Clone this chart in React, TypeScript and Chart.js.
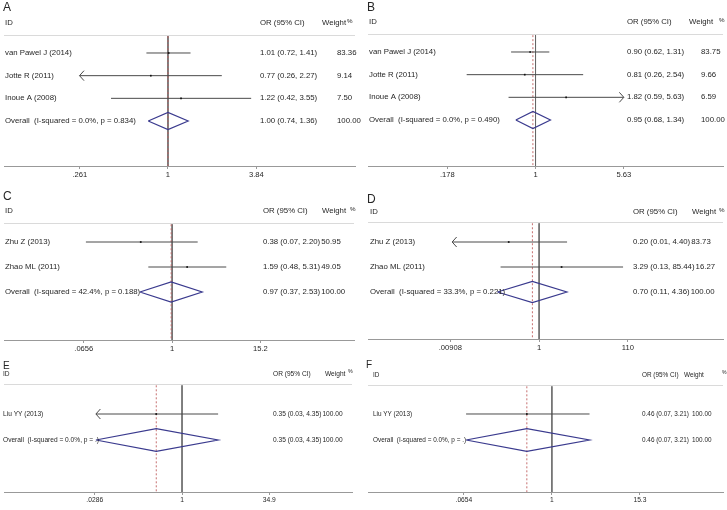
import React, { useEffect, useRef } from 'react';
import { Chart, registerables } from 'chart.js';
Chart.register(...registerables);

// ---------- Panel A ----------
const studiesA = ['van Pawel J (2014)', 'Jotte R (2011)', 'Inoue A (2008)'];
const orA = [1.01, 0.77, 1.22];
const loA = [0.72, 0.26, 0.42];
const hiA = [1.41, 2.27, 3.55];
const weightsA = ['83.36', '9.14', '7.50'];
const arrowLoA = [false, true, false];
const arrowHiA = [false, false, false];
const overallA = [1.0, 0.74, 1.36];
const overallLabelA = 'Overall  (I-squared = 0.0%, p = 0.834)';
const tickValsA = [0.261, 1, 3.84];
const tickLabelsA = ['.261', '1', '3.84'];

// ---------- Panel B ----------
const studiesB = ['van Pawel J (2014)', 'Jotte R (2011)', 'Inoue A (2008)'];
const orB = [0.9, 0.81, 1.82];
const loB = [0.62, 0.26, 0.59];
const hiB = [1.31, 2.54, 5.63];
const weightsB = ['83.75', '9.66', '6.59'];
const arrowLoB = [false, false, false];
const arrowHiB = [false, false, true];
const overallB = [0.95, 0.68, 1.34];
const overallLabelB = 'Overall  (I-squared = 0.0%, p = 0.490)';
const tickValsB = [0.178, 1, 5.63];
const tickLabelsB = ['.178', '1', '5.63'];

// ---------- Panel C ----------
const studiesC = ['Zhu Z (2013)', 'Zhao ML (2011)'];
const orC = [0.38, 1.59];
const loC = [0.07, 0.48];
const hiC = [2.2, 5.31];
const weightsC = ['50.95', '49.05'];
const arrowLoC = [false, false];
const arrowHiC = [false, false];
const overallC = [0.97, 0.37, 2.53];
const overallLabelC = 'Overall  (I-squared = 42.4%, p = 0.188)';
const tickValsC = [0.0656, 1, 15.2];
const tickLabelsC = ['.0656', '1', '15.2'];

// ---------- Panel D ----------
const studiesD = ['Zhu Z (2013)', 'Zhao ML (2011)'];
const orD = [0.2, 3.29];
const loD = [0.01, 0.13];
const hiD = [4.4, 85.44];
const weightsD = ['83.73', '16.27'];
const arrowLoD = [true, false];
const arrowHiD = [false, false];
const overallD = [0.7, 0.11, 4.36];
const overallLabelD = 'Overall  (I-squared = 33.3%, p = 0.221)';
const tickValsD = [0.00908, 1, 110];
const tickLabelsD = ['.00908', '1', '110'];

// ---------- Panel E ----------
const studiesE = ['Liu YY (2013)'];
const orE = [0.35];
const loE = [0.03];
const hiE = [4.35];
const weightsE = ['100.00'];
const arrowLoE = [true];
const arrowHiE = [false];
const overallE = [0.35, 0.03, 4.35];
const overallLabelE = 'Overall  (I-squared = 0.0%, p = .)';
const tickValsE = [0.0286, 1, 34.9];
const tickLabelsE = ['.0286', '1', '34.9'];

// ---------- Panel F ----------
const studiesF = ['Liu YY (2013)'];
const orF = [0.46];
const loF = [0.07];
const hiF = [3.21];
const weightsF = ['100.00'];
const arrowLoF = [false];
const arrowHiF = [false];
const overallF = [0.46, 0.07, 3.21];
const overallLabelF = 'Overall  (I-squared = 0.0%, p = .)';
const tickValsF = [0.0654, 1, 15.3];
const tickLabelsF = ['.0654', '1', '15.3'];

const overallWeight = '100.00';

const AX_H = 16;
const FONT = '"Liberation Sans", Arial, Helvetica, sans-serif';

type Layout = {
  left: number; top: number; width: number; areaL: number; areaR: number;
  hline: number; axis: number; xMin: number; xMax: number; yMin: number; yMax: number;
  idX: number; orX: number; wX: number; wHeadX: number; pctX: number; headY: number;
  letterX: number; letterY: number; font: number; letterFont: number; tickFont: number; dh: number;
};

type Panel = {
  letter: string; studies: string[]; or: number[]; lo: number[]; hi: number[]; weights: string[];
  arrowLo: boolean[]; arrowHi: boolean[]; overall: number[]; overallLabel: string;
  tickVals: number[]; tickLabels: string[]; L: Layout;
};

const panels: Panel[] = [
  {
    letter: 'A', studies: studiesA, or: orA, lo: loA, hi: hiA, weights: weightsA, arrowLo: arrowLoA, arrowHi: arrowHiA,
    overall: overallA, overallLabel: overallLabelA, tickVals: tickValsA, tickLabels: tickLabelsA,
    L: { left: 0, top: 0, width: 364, areaL: 3, areaR: 355, hline: 35, axis: 166, xMin: 0.0823, xMax: 17.26,
      yMin: -0.794, yMax: 4.985, idX: 5, orX: 260, wX: 337, wHeadX: 322, pctX: 347, headY: 23,
      letterX: 3, letterY: 8, font: 7.8, letterFont: 12, tickFont: 7.6, dh: 0.38 },
  },
  {
    letter: 'B', studies: studiesB, or: orB, lo: loB, hi: hiB, weights: weightsB, arrowLo: arrowLoB, arrowHi: arrowHiB,
    overall: overallB, overallLabel: overallLabelB, tickVals: tickValsB, tickLabels: tickLabelsB,
    L: { left: 364, top: 0, width: 363, areaL: 366, areaR: 724, hline: 34, axis: 166, xMin: 0.0377, xMax: 39.2,
      yMin: -0.794, yMax: 5.03, idX: 369, orX: 627, wX: 701, wHeadX: 689, pctX: 719, headY: 22,
      letterX: 367, letterY: 8, font: 7.8, letterFont: 12, tickFont: 7.6, dh: 0.38 },
  },
  {
    letter: 'C', studies: studiesC, or: orC, lo: loC, hi: hiC, weights: weightsC, arrowLo: arrowLoC, arrowHi: arrowHiC,
    overall: overallC, overallLabel: overallLabelC, tickVals: tickValsC, tickLabels: tickLabelsC,
    L: { left: 0, top: 182, width: 364, areaL: 3, areaR: 354, hline: 223, axis: 340, xMin: 0.0056, xMax: 273,
      yMin: -0.76, yMax: 3.92, idX: 5, orX: 263, wX: 318, wHeadX: 322, pctX: 350, headY: 211,
      letterX: 3, letterY: 197, font: 7.8, letterFont: 12, tickFont: 7.6, dh: 0.4 },
  },
  {
    letter: 'D', studies: studiesD, or: orD, lo: loD, hi: hiD, weights: weightsD, arrowLo: arrowLoD, arrowHi: arrowHiD,
    overall: overallD, overallLabel: overallLabelD, tickVals: tickValsD, tickLabels: tickLabelsD,
    L: { left: 364, top: 182, width: 363, areaL: 367, areaR: 725, hline: 222, axis: 339, xMin: 0.000116, xMax: 16990,
      yMin: -0.8, yMax: 3.88, idX: 370, orX: 633, wX: 689, wHeadX: 692, pctX: 719, headY: 212,
      letterX: 367, letterY: 200, font: 7.8, letterFont: 12, tickFont: 7.6, dh: 0.42 },
  },
  {
    letter: 'E', studies: studiesE, or: orE, lo: loE, hi: hiE, weights: weightsE, arrowLo: arrowLoE, arrowHi: arrowHiE,
    overall: overallE, overallLabel: overallLabelE, tickVals: tickValsE, tickLabels: tickLabelsE,
    L: { left: 0, top: 356, width: 364, areaL: 3, areaR: 352, hline: 384, axis: 492, xMin: 0.000711, xMax: 1014,
      yMin: -1.154, yMax: 3.0, idX: 3, orX: 273, wX: 320, wHeadX: 325, pctX: 348, headY: 374,
      letterX: 3, letterY: 366, font: 6.6, letterFont: 10, tickFont: 6.7, dh: 0.44 },
  },
  {
    letter: 'F', studies: studiesF, or: orF, lo: loF, hi: hiF, weights: weightsF, arrowLo: arrowLoF, arrowHi: arrowHiF,
    overall: overallF, overallLabel: overallLabelF, tickVals: tickValsF, tickLabels: tickLabelsF,
    L: { left: 364, top: 356, width: 363, areaL: 367, areaR: 726, hline: 385, axis: 492, xMin: 0.00335, xMax: 200.7,
      yMin: -1.115, yMax: 3.0, idX: 373, orX: 642, wX: 692, wHeadX: 684, pctX: 722, headY: 375,
      letterX: 366, letterY: 365, font: 6.4, letterFont: 10, tickFont: 6.7, dh: 0.44 },
  },
];

const f2 = (v: number) => v.toFixed(2);
const ciText = (e: number, l: number, h: number) => `${f2(e)} (${f2(l)}, ${f2(h)})`;

function makeChart(canvas: HTMLCanvasElement, p: Panel) {
  const L = p.L;
  const n = p.studies.length;
  const ox = L.left;
  const oy = L.top;
  const [est, dlo, dhi] = p.overall;
  const datasets: any[] = [];
  datasets.push({
    data: p.or.map((v, i) => ({ x: v, y: i })),
    showLine: false, pointStyle: 'rect', pointRadius: 1.2, pointBackgroundColor: '#111', pointBorderWidth: 0,
  });
  p.lo.forEach((lo, i) => {
    datasets.push({
      data: [{ x: lo, y: i }, { x: p.hi[i], y: i }],
      showLine: true, borderColor: '#4a4a4a', borderWidth: 1, pointRadius: 0,
    });
  });
  datasets.push({
    data: [{ x: dlo, y: n }, { x: est, y: n - L.dh }, { x: dhi, y: n }, { x: est, y: n + L.dh }, { x: dlo, y: n }],
    showLine: true, borderColor: '#3a3a8e', borderWidth: 1.2, pointRadius: 0, fill: false,
  });
  datasets.push({
    data: [{ x: est, y: L.yMin + 0.05 }, { x: est, y: L.yMax }],
    showLine: true, borderColor: '#c06060', borderWidth: 0.9, borderDash: [2, 2], pointRadius: 0,
  });
  datasets.push({
    data: [{ x: 1, y: L.yMin + 0.05 }, { x: 1, y: L.yMax }],
    showLine: true, borderColor: '#666666', borderWidth: 0.9, pointRadius: 0,
  });

  const textPlugin = {
    id: 'forestText' + p.letter,
    afterDraw(chart: any) {
      const ctx = chart.ctx as CanvasRenderingContext2D;
      const xs = chart.scales.x;
      const ys = chart.scales.y;
      const ca = chart.chartArea;
      ctx.save();
      ctx.strokeStyle = '#dadada';
      ctx.lineWidth = 1;
      ctx.beginPath();
      ctx.moveTo(ca.left, Math.round(ca.top) + 0.5);
      ctx.lineTo(ca.right, Math.round(ca.top) + 0.5);
      ctx.stroke();
      ctx.strokeStyle = '#4a4a4a';
      ctx.lineWidth = 1;
      p.studies.forEach((_, i) => {
        const y = ys.getPixelForValue(i);
        if (p.arrowLo[i]) {
          const x = xs.getPixelForValue(p.lo[i]);
          ctx.beginPath();
          ctx.moveTo(x + 4.5, y - 5);
          ctx.lineTo(x, y);
          ctx.lineTo(x + 4.5, y + 5);
          ctx.stroke();
        }
        if (p.arrowHi[i]) {
          const x = xs.getPixelForValue(p.hi[i]);
          ctx.beginPath();
          ctx.moveTo(x - 4.5, y - 5);
          ctx.lineTo(x, y);
          ctx.lineTo(x - 4.5, y + 5);
          ctx.stroke();
        }
      });
      ctx.fillStyle = '#262626';
      ctx.textBaseline = 'middle';
      ctx.textAlign = 'left';
      ctx.font = `${L.letterFont}px ${FONT}`;
      ctx.fillText(p.letter, L.letterX - ox, L.letterY - oy);
      ctx.font = `${L.font}px ${FONT}`;
      ctx.fillText('ID', L.idX - ox, L.headY - oy);
      ctx.fillText('OR (95% CI)', L.orX - ox, L.headY - oy);
      ctx.fillText('Weight', L.wHeadX - ox, L.headY - oy);
      ctx.font = `${L.font * 0.8}px ${FONT}`;
      ctx.fillText('%', L.pctX - ox, L.headY - oy - 2);
      ctx.font = `${L.font}px ${FONT}`;
      const row = (label: string, txt: string, w: string, i: number) => {
        const y = ys.getPixelForValue(i);
        ctx.fillText(label, L.idX - ox, y);
        ctx.fillText(txt, L.orX - ox, y);
        const wx = Math.max(L.wX - ox, L.orX - ox + ctx.measureText(txt).width + 1);
        ctx.fillText(w, wx, y);
      };
      p.studies.forEach((s, i) => row(s, ciText(p.or[i], p.lo[i], p.hi[i]), p.weights[i], i));
      row(p.overallLabel, ciText(est, dlo, dhi), overallWeight, n);
      ctx.restore();
    },
  };

  return new Chart(canvas, {
    type: 'scatter',
    data: { datasets },
    options: {
      responsive: false,
      animation: false,
      devicePixelRatio: 1,
      layout: { padding: { left: L.areaL - ox, right: ox + L.width - L.areaR, top: L.hline - oy, bottom: 0 } },
      plugins: { legend: { display: false }, tooltip: { enabled: false } },
      scales: {
        x: {
          type: 'logarithmic',
          min: L.xMin,
          max: L.xMax,
          bounds: 'data',
          position: 'bottom',
          afterBuildTicks: (ax: any) => { ax.ticks = p.tickVals.map((v) => ({ value: v })); },
          afterFit: (ax: any) => { ax.height = AX_H; },
          grid: { display: true, drawOnChartArea: false, drawTicks: true, tickLength: 3, color: '#999' },
          border: { display: true, color: '#999', width: 1 },
          ticks: {
            autoSkip: false, maxRotation: 0, minRotation: 0, padding: 1, color: '#262626',
            font: { family: FONT, size: L.tickFont },
            callback: (_v: any, i: number) => p.tickLabels[i],
          },
        } as any,
        y: { type: 'linear', reverse: true, min: L.yMin, max: L.yMax, bounds: 'data', display: false } as any,
      },
    },
    plugins: [textPlugin],
  } as any);
}

export default function App() {
  const refs = useRef<(HTMLCanvasElement | null)[]>([]);
  useEffect(() => {
    const charts = panels.map((p, k) => makeChart(refs.current[k] as HTMLCanvasElement, p));
    return () => charts.forEach((c) => c.destroy());
  }, []);
  return (
    <div style={{ position: 'absolute', left: 0, top: 0, width: 727, height: 510, background: '#fff', overflow: 'hidden' }}>
      {panels.map((p, k) => {
        const h = p.L.axis - p.L.top + AX_H;
        return (
          <canvas
            key={k}
            ref={(el) => { refs.current[k] = el; }}
            width={p.L.width}
            height={h}
            style={{ position: 'absolute', left: p.L.left, top: p.L.top, width: p.L.width, height: h, display: 'block' }}
          />
        );
      })}
    </div>
  );
}
